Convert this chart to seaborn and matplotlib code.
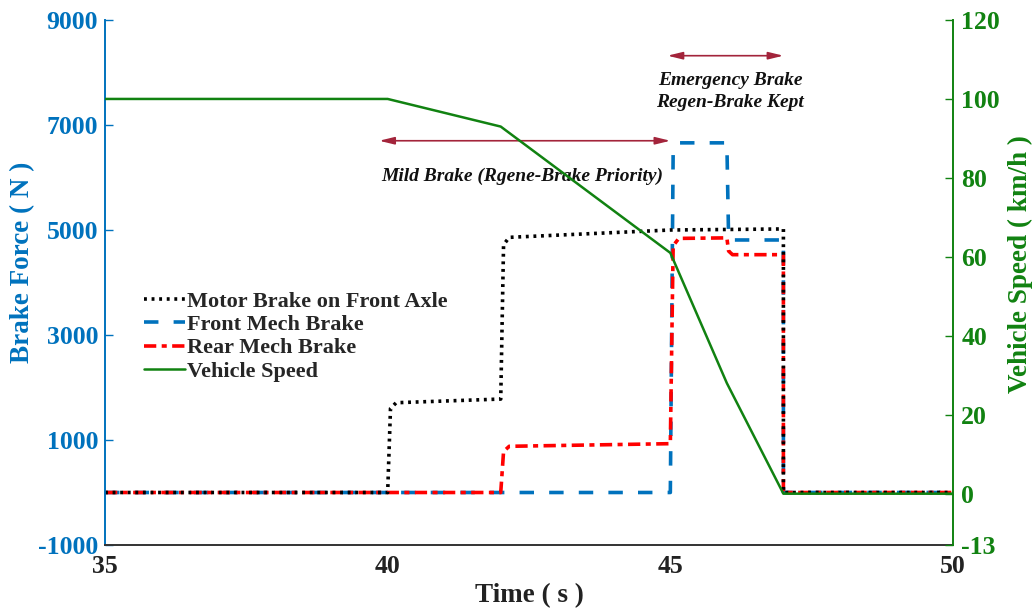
import numpy as np
import pandas as pd
import matplotlib
matplotlib.use("Agg")
import matplotlib.pyplot as plt
import seaborn as sns

# ---- data ----
t_motor = [35.0, 40.0, 40.05, 40.15, 42.0, 42.05, 42.15, 45.0, 47.0, 47.0, 50.0]
motor_brake = [0, 0, 1600, 1710, 1780, 4720, 4860, 5000, 5020, 0, 0]

t_front = [35.0, 45.0, 45.05, 45.15, 46.0, 46.03, 46.1, 47.0, 47.0, 50.0]
front_brake = [0, 0, 6500, 6660, 6660, 4880, 4810, 4810, 0, 0]

t_rear = [35.0, 42.0, 42.05, 42.15, 45.0, 45.05, 45.15, 46.0, 46.03, 46.1, 47.0, 47.0, 50.0]
rear_brake = [0, 0, 780, 880, 930, 4700, 4840, 4850, 4600, 4530, 4530, 0, 0]

t_speed = [35.0, 40.0, 42.0, 45.0, 46.0, 47.0, 50.0]
vehicle_speed = [100, 100, 93, 61, 28, 0, 0]

x_ticks = [35, 40, 45, 50]
force_ticks = [-1000, 1000, 3000, 5000, 7000, 9000]
speed_ticks = [-13, 0, 20, 40, 60, 80, 100, 120]

mild_span = (39.85, 45.0)
emergency_span = (44.95, 47.0)

# ---- style ----
sns.set_style("white")
plt.rcParams["font.family"] = ["Liberation Serif", "DejaVu Serif"]
plt.rcParams["font.weight"] = "bold"
plt.rcParams["axes.unicode_minus"] = False

BLUE = "#0072BD"
GREEN = "#118211"
RED = "#FF0000"
ARROW = "#A3243B"

fig = plt.figure(figsize=(10.32, 6.09), dpi=100)
ax1 = fig.add_axes([105 / 1032, 1 - 545 / 609, (953 - 105) / 1032, (545 - 20) / 609])
ax2 = ax1.twinx()

df_motor = pd.DataFrame({"t": t_motor, "F": motor_brake})
df_front = pd.DataFrame({"t": t_front, "F": front_brake})
df_rear = pd.DataFrame({"t": t_rear, "F": rear_brake})
df_speed = pd.DataFrame({"t": t_speed, "v": vehicle_speed})

sns.lineplot(data=df_front, x="t", y="F", ax=ax1, color=BLUE, lw=2.6,
             estimator=None, sort=False, label="Front Mech Brake")
ax1.lines[-1].set_dashes([4, 4.2])
sns.lineplot(data=df_rear, x="t", y="F", ax=ax1, color=RED, lw=2.6,
             estimator=None, sort=False, label="Rear Mech Brake")
ax1.lines[-1].set_dashes([3.4, 1.5, 1.4, 1.5])
sns.lineplot(data=df_motor, x="t", y="F", ax=ax1, color="black", lw=2.6,
             estimator=None, sort=False, label="Motor Brake on Front Axle")
ax1.lines[-1].set_dashes([0.8, 1.3])
ax1.lines[-1].set_dash_capstyle("butt")

sns.lineplot(data=df_speed, x="t", y="v", ax=ax2, color=GREEN, lw=1.8,
             estimator=None, sort=False, label="Vehicle Speed")

# ---- axes ----
ax1.set_xlim(35, 50)
ax1.set_ylim(-1000, 9000)
ax2.set_ylim(-13, 120)
ax1.set_xticks(x_ticks)
ax1.set_yticks(force_ticks)
ax2.set_yticks(speed_ticks)

tfs = 18.5
lfs = 19.5
ax1.set_xlabel("Time ( s )", fontsize=lfs, fontweight="bold", color="#222222", labelpad=4)
ax1.set_ylabel("Brake Force ( N )", fontsize=lfs, fontweight="bold", color=BLUE)
ax2.set_ylabel("Vehicle Speed ( km/h )", fontsize=lfs, fontweight="bold", color=GREEN)
ax1.yaxis.set_label_coords(-0.0825, 0.539)
ax2.yaxis.set_label_coords(1.0649, 0.535)

ax1.tick_params(axis="x", direction="in", length=6, width=1, colors="#222222",
                labelsize=tfs, pad=7)
ax1.tick_params(axis="y", direction="in", length=6, width=1, colors=BLUE,
                labelsize=tfs, pad=5)
ax2.tick_params(axis="y", direction="in", length=6, width=1, colors=GREEN,
                labelsize=tfs, pad=6)
for lab in ax1.get_xticklabels() + ax1.get_yticklabels() + ax2.get_yticklabels():
    lab.set_fontweight("bold")

for ax in (ax1, ax2):
    ax.spines["top"].set_visible(False)
    ax.grid(False)
ax1.spines["left"].set_color(BLUE)
ax1.spines["right"].set_visible(False)
ax2.spines["left"].set_visible(False)
ax2.spines["right"].set_color(GREEN)
ax1.spines["bottom"].set_color("#333333")
ax2.spines["bottom"].set_visible(False)
for sp in ("left", "bottom"):
    ax1.spines[sp].set_linewidth(1.4)
ax2.spines["right"].set_linewidth(1.4)

# ---- legend ----
for leg in (ax1.get_legend(), ax2.get_legend()):
    if leg is not None:
        leg.remove()
h1, l1 = ax1.get_legend_handles_labels()
h2, l2 = ax2.get_legend_handles_labels()
order = [2, 0, 1]
handles = [h1[i] for i in order] + h2
labels = [l1[i] for i in order] + l2
leg = ax2.legend(handles, labels, loc="upper left", bbox_to_anchor=(0.035, 0.5),
                 frameon=False, fontsize=16, handlelength=1.85, handletextpad=0.1,
                 labelspacing=0.12, borderaxespad=0)
for txt in leg.get_texts():
    txt.set_fontweight("bold")

# ---- annotations ----
arrow_kw = dict(arrowstyle="<|-|>,head_length=0.9,head_width=0.22", color=ARROW, lw=1.2,
                shrinkA=0, shrinkB=0)
ax1.annotate("", xy=(mild_span[0], 6700), xytext=(mild_span[1], 6700), arrowprops=arrow_kw)
ax1.annotate("", xy=(emergency_span[0], 8320), xytext=(emergency_span[1], 8320),
             arrowprops=arrow_kw)
ax1.text(42.38, 6030, "Mild Brake (Rgene-Brake Priority)", ha="center", va="center",
         fontsize=14, fontstyle="italic", fontweight="bold", color="#111111")
ax1.text(46.06, 7640, "Emergency Brake\nRegen-Brake Kept", ha="center", va="center",
         fontsize=14, fontstyle="italic", fontweight="bold", color="#111111",
         linespacing=1.38)

fig.savefig("out.png", dpi=100)
